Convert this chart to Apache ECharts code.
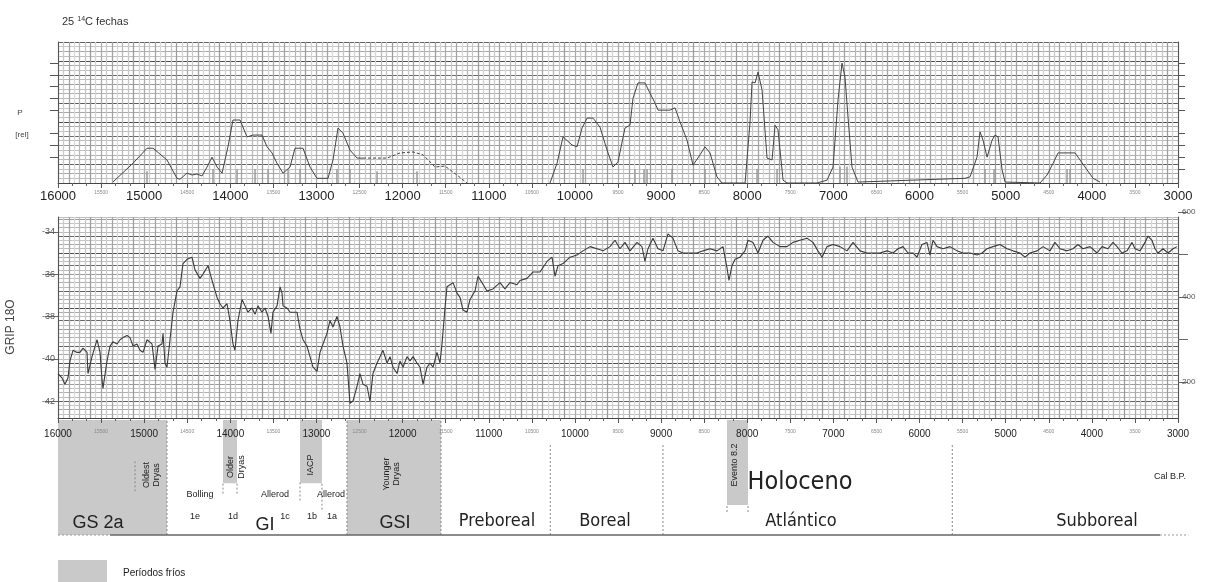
<!DOCTYPE html>
<html><head><meta charset="utf-8">
<script src="https://cdn.jsdelivr.net/npm/echarts@6/dist/echarts.min.js"></script>
<style>html,body{margin:0;padding:0;background:#fff}#c{width:1210px;height:582px}</style>
</head><body><div id="c"></div>
<script>
// ---------- DATA ----------
// Summed probability of 14C dates (relative units), cal BP
const pYearsA = [15362,15130,14967,14897,14735,14619,14584,14503,14445,14387,14328,14270,14212,14154,14096,14027,13969,13887,13806,13737,13632,13574,13516,13458,13388,13307,13249,13156,13075,12994,12866,12808,12750,12692,12611,12529,12460];
const pValsA  = [0.2,4.2,7.4,7.4,4.9,1.0,0.8,2.1,1.7,1.9,1.5,3.4,5.5,3.4,2.1,7.7,13.4,13.4,9.8,10.2,10.2,7.7,6.4,4.2,2.1,3.4,7.4,7.4,3.4,1.0,1.0,4.9,11.7,10.6,7.0,5.3,5.3];
const pYearsDash = [12460,12181,12030,11879,11763,11624,11508,11369,11253];
const pValsDash  = [5.3,5.3,6.4,6.6,6.0,3.4,3.6,1.7,0];
const pYearsB = [10289,10208,10138,10034,9976,9917,9859,9790,9709,9627,9558,9500,9419,9361,9326,9268,9187,9128,9070,9035,8896,8838,8780,8699,8629,8548,8490,8432,8351,8293,8025,7968,7944,7909,7875,7828,7770,7712,7677,7643,7584,7538,7190,7074,7004,6946,6900,6865,6830,6784,6714,5472,5414,5333,5298,5263,5216,5158,5124,5089,5042,5007,4601,4520,4450,4392,4195,4137,4056,3986,3905];
const pValsB  = [0,4.2,9.8,8.1,7.7,11.7,13.8,13.8,11.9,7.0,3.4,4.5,11.7,12.3,18.0,21.3,21.3,19.1,17.0,15.5,15.5,16.0,13.0,9.1,3.8,6.0,7.7,6.4,1.3,0,0,12.8,21.5,21.3,23.6,19.8,5.3,4.9,12.3,11.3,0.6,0,0,0.6,3.4,17.7,25.5,22.5,14.0,3.4,0.2,1.0,1.3,5.5,10.9,9.1,5.5,9.1,10.2,9.8,2.8,0.2,0,1.7,4.2,6.4,6.4,4.9,2.8,1.0,0.2];
// Individual 14C dates (cal BP) and their bar height
const dateYears   = [14967,14201,13922,13713,13562,13330,13191,12762,12611,12297,11833,9906,9303,9198,9163,8873,8490,7886,7654,6923,6842,5240,5135,4288,4253];
const dateHeights = [2.5,3,3,3,3,3,3,3,3,2.5,2.5,3,3,3,3,3,3,3,3,3.5,3.5,3,3,3,3];
// GRIP d18O
const gripYears = [16000,15954,15919,15884,15861,15826,15779,15745,15710,15663,15652,15605,15547,15512,15489,15478,15431,15396,15362,15315,15280,15246,15199,15164,15129,15083,15048,15013,14967,14909,14874,14839,14793,14781,14758,14735,14700,14665,14619,14584,14549,14503,14445,14410,14352,14317,14259,14212,14154,14120,14085,14038,14004,13969,13946,13911,13864,13829,13795,13748,13713,13679,13632,13597,13562,13528,13505,13458,13423,13400,13388,13342,13307,13272,13226,13191,13156,13110,13075,13040,12994,12959,12924,12878,12843,12808,12762,12727,12692,12646,12611,12576,12529,12495,12460,12413,12379,12344,12297,
12262,12228,12181,12146,12112,12065,12030,11995,11949,11914,11879,11833,11798,11763,11717,11682,11647,11601,11566,11543,11508,11485,11450,11415,11369,11334,11299,11253,11218,11160,11125,11079,11021,10951,10870,10812,10754,10672,10638,10556,10487,10405,10324,10266,10231,10196,10138,10057,9976,9906,9825,9744,9674,9593,9535,9477,9419,9361,9280,9222,9187,9152,9094,9036,8978,8920,8862,8804,8746,8665,8583,8513,8432,8351,8281,8235,8212,8177,8142,8084,8026,7991,7933,7875,7817,7759,7701,7620,7538,
7469,7388,7306,7237,7179,7132,7074,7004,6923,6842,6772,6691,6610,6540,6459,6378,6308,6250,6192,6134,6076,6030,5972,5914,5879,5844,5797,5728,5646,5565,5496,5414,5333,5275,5217,5147,5066,4985,4915,4834,4776,4718,4637,4567,4486,4428,4370,4289,4219,4161,4103,4021,3940,3882,3813,3755,3708,3650,3592,3534,3499,3441,3383,3348,3302,3267,3232,3174,3116,3058,3012];
const gripVals = [-40.7,-40.9,-41.2,-40.9,-40.1,-39.6,-39.7,-39.7,-39.5,-39.7,-40.7,-39.9,-39.1,-39.7,-41.0,-41.4,-40.1,-39.4,-39.2,-39.3,-39.1,-39.0,-38.9,-39.0,-39.4,-39.3,-39.6,-39.7,-39.1,-39.3,-40.5,-39.4,-39.3,-38.8,-40.2,-40.4,-39.1,-37.8,-36.8,-36.6,-35.5,-35.3,-35.2,-35.8,-36.2,-36.0,-35.6,-36.3,-37.1,-37.4,-37.6,-37.4,-38.2,-39.3,-39.6,-38.2,-37.2,-37.5,-37.8,-37.6,-37.9,-37.5,-37.8,-37.6,-38.0,-38.8,-37.8,-37.5,-36.6,-36.9,-37.5,-37.6,-37.8,-37.8,-37.8,-38.6,-39.1,-39.4,-39.9,-40.4,-40.6,-39.7,-39.3,-38.8,-38.2,-38.5,-38.0,-38.5,-39.4,-40.2,-42.1,-42.0,-41.3,-40.7,-41.2,-41.3,-42.0,-40.7,-40.2,
-39.9,-39.6,-40.2,-39.9,-40.4,-40.7,-40.1,-40.4,-39.9,-40.1,-39.9,-40.2,-40.4,-41.2,-40.4,-40.2,-40.4,-39.7,-40.2,-39.3,-37.6,-36.6,-36.5,-36.4,-36.9,-37.1,-37.7,-37.8,-37.2,-36.8,-36.1,-36.4,-36.8,-36.7,-36.4,-36.7,-36.4,-36.5,-36.3,-36.2,-35.9,-35.9,-35.4,-35.2,-36.1,-35.6,-35.5,-35.2,-35.1,-34.9,-34.7,-34.8,-34.9,-34.7,-34.4,-34.8,-34.5,-34.9,-34.5,-34.7,-35.4,-34.8,-34.3,-34.8,-34.9,-34.1,-34.3,-34.9,-35.0,-35.0,-35.0,-34.9,-34.8,-34.9,-34.7,-35.7,-36.3,-35.6,-35.3,-35.2,-34.9,-34.4,-34.5,-35.0,-34.4,-34.2,-34.5,-34.7,-34.7,
-34.5,-34.4,-34.3,-34.5,-34.9,-35.2,-34.7,-34.6,-34.7,-34.9,-34.5,-34.9,-35.0,-35.0,-35.0,-34.9,-35.0,-34.8,-34.7,-35.0,-35.0,-35.2,-34.6,-34.5,-35.1,-34.4,-34.7,-34.8,-34.7,-34.9,-35.0,-35.0,-35.1,-35.0,-34.8,-34.7,-34.6,-34.8,-34.9,-35.0,-35.2,-35.0,-34.9,-34.7,-34.9,-34.5,-34.8,-34.9,-34.8,-34.6,-34.8,-34.7,-35.0,-34.7,-34.8,-34.5,-34.7,-35.0,-34.9,-34.5,-34.8,-34.9,-34.5,-34.2,-34.4,-34.8,-35.0,-34.8,-35.0,-34.8,-34.7];
// Tick labels
const gripTickValues = [-34,-36,-38,-40,-42];
const rightTickLabels = [200,400,600];
// Cold periods (grey boxes): start, end (cal BP), depth of box (100 = full band)
const coldNames  = ['GS 2a','Older Dryas','IACP','GSI','Evento 8.2'];
const coldStart  = [16000,14085,13191,12646,8235];
const coldEnd    = [14735,13922,12936,11555,7991];
const coldBottom = [0,45,45,0,26];
// Zone boundaries (dotted lines): year, from, to (band units)
const divYears = [15106,14735,14085,13922,13191,12936,12646,11555,10286,8978,5620,8235,7991];
const divFrom  = [38,0,36,36,30,22,0,0,0,0,0,20,20];
const divTo    = [65,100,46,46,46,46,100,100,80,80,80,27,27];

// ---------- CHART ----------
const chart = echarts.init(document.getElementById('c'));
const zip = (a,b) => a.map((v,i)=>[v,b[i]]);
const L = 58, W = 1120;
const vCols = ['#ababab','#d2d2d2','#9c9c9c','#c6c6c6','#b8b8b8','#d8d8d8','#a4a4a4','#cacaca'];
const hCols = ['#4a4a4a','#c0c0c0','#a8a8a8','#c8c8c8','#5e5e5e','#bbbbbb','#b0b0b0','#c4c4c4','#9a9a9a','#bdbdbd','#6a6a6a','#c2c2c2','#aaaaaa'];
const xLab = (size, col) => ({
  formatter: v => (v % 1000 === 0 ? '{a|' + v + '}' : '{b|' + v + '}'),
  rich: { a: { fontSize: size, color: col, fontFamily: 'Liberation Sans' },
          b: { fontSize: 5, color: '#888', fontFamily: 'Liberation Sans' } }
});
const linesX = (gi) => ({ type:'value', gridIndex:gi, position:'bottom', min:3000, max:16000, inverse:true, interval:62.5,
  axisLine:{show:false}, axisTick:{show:false}, axisLabel:{show:false},
  splitLine:{show:true, lineStyle:{color:vCols, width:1.3}} });
const labelX = (gi, size, margin) => ({ type:'value', gridIndex:gi, position:'bottom', min:3000, max:16000, inverse:true, interval:500,
  axisLine:{show:true, onZero:false, lineStyle:{color:'#444', width:1}},
  axisTick:{show:true, length:5, lineStyle:{color:'#555'}},
  minorTick:{show:true, splitNumber:3, length:3, lineStyle:{color:'#666'}},
  splitLine:{show:false},
  axisLabel:Object.assign({margin:margin}, xLab(size,'#222')) });
const linesY = (gi, min, max, iv) => ({type:'value', gridIndex:gi, position:'left', min:min, max:max, interval:iv,
  axisLine:{show:false}, axisTick:{show:false}, axisLabel:{show:false},
  splitLine:{show:true, lineStyle:{color:hCols, width:1.1}}});

const option = {
  animation:false,
  backgroundColor:'#fff',
  grid:[
    {left:L, top:42, width:W, height:141},
    {left:L, top:217, width:W, height:201},
    {left:L, top:212, width:W, height:170},
    {left:L, top:420, width:W, height:115}
  ],
  xAxis:[
    linesX(0),
    labelX(0, 13, 7),
    linesX(1),
    labelX(1, 10, 11),
    {type:'value', gridIndex:2, min:3000, max:16000, inverse:true, show:false},
    {type:'value', gridIndex:3, min:3000, max:16000, inverse:true, show:false}
  ],
  yAxis:[
    linesY(0, 0, 30, 1),
    {type:'value', gridIndex:0, position:'left', min:0, max:30,
     axisLine:{show:true, lineStyle:{color:'#555'}},
     axisTick:{show:true, length:8, customValues:[5.5,8,10.5,15.5,18,20.5,23,25.5], lineStyle:{color:'#555'}},
     axisLabel:{show:false}, splitLine:{show:false}},
    {type:'value', gridIndex:0, position:'right', min:0, max:30,
     axisLine:{show:true, lineStyle:{color:'#555'}},
     axisTick:{show:true, length:7, customValues:[3,5.5,8,10.5,15.5,18,20.5,23,25.5], lineStyle:{color:'#555'}},
     axisLabel:{show:false}, splitLine:{show:false}},
    linesY(1, -42.8, -33.3, 0.2),
    {type:'value', gridIndex:1, position:'left', min:-42.8, max:-33.3,
     axisLine:{show:true, lineStyle:{color:'#555'}},
     axisTick:{show:true, length:13, customValues:gripTickValues, lineStyle:{color:'#666'}},
     axisLabel:{show:true, customValues:gripTickValues, margin:3, fontSize:9, color:'#555', fontFamily:'Liberation Sans'},
     splitLine:{show:false}},
    {type:'value', gridIndex:1, position:'right', min:-42.8, max:-33.3,
     axisLine:{show:true, lineStyle:{color:'#555'}}, axisTick:{show:false}, axisLabel:{show:false}, splitLine:{show:false}},
    {type:'value', gridIndex:2, min:200, max:600, interval:100, position:'right',
     axisLine:{show:false},
     axisTick:{show:true, length:10, lineStyle:{color:'#666'}},
     axisLabel:{show:true, customValues:rightTickLabels, margin:4, fontSize:8, color:'#555', fontFamily:'Liberation Sans'},
     splitLine:{show:false}},
    {type:'value', gridIndex:3, min:0, max:100, show:false}
  ],
  series:[
    {type:'custom', xAxisIndex:0, yAxisIndex:0, data:zip(dateYears,dateHeights), z:3,
     renderItem:(p,api)=>{const a=api.coord([api.value(0),0]), b=api.coord([api.value(0),api.value(1)]);
       return {type:'line', shape:{x1:a[0],y1:a[1],x2:b[0],y2:b[1]}, style:{stroke:'#9a9a9a', lineWidth:1.5}};}},
    {type:'line', xAxisIndex:0, yAxisIndex:0, data:zip(pYearsA,pValsA), showSymbol:false, z:4,
     lineStyle:{color:'#444', width:1}},
    {type:'line', xAxisIndex:0, yAxisIndex:0, data:zip(pYearsDash,pValsDash), showSymbol:false, z:4,
     lineStyle:{color:'#444', width:1, type:[3,2]}},
    {type:'line', xAxisIndex:0, yAxisIndex:0, data:zip(pYearsB,pValsB), showSymbol:false, z:4,
     lineStyle:{color:'#444', width:1}},
    {type:'line', xAxisIndex:2, yAxisIndex:3, data:zip(gripYears,gripVals), showSymbol:false, z:4,
     lineStyle:{color:'#3a3a3a', width:1.1}},
    {type:'custom', xAxisIndex:5, yAxisIndex:7, z:0,
     data:coldNames.map((n,i)=>[coldStart[i],coldEnd[i],100,coldBottom[i]]),
     renderItem:(p,api)=>{const a=api.coord([api.value(0),api.value(2)]), b=api.coord([api.value(1),api.value(3)]);
       return {type:'rect', shape:{x:Math.min(a[0],b[0]), y:a[1], width:Math.abs(b[0]-a[0]), height:b[1]-a[1]}, style:{fill:'#c9c9c9'}};}},
    {type:'custom', xAxisIndex:5, yAxisIndex:7, z:1,
     data:divYears.map((y,i)=>[y,divFrom[i],divTo[i]]),
     renderItem:(p,api)=>{const a=api.coord([api.value(0),api.value(1)]), b=api.coord([api.value(0),api.value(2)]);
       return {type:'line', shape:{x1:a[0],y1:a[1],x2:b[0],y2:b[1]}, style:{stroke:'#8a8a8a', lineWidth:1, lineDash:[2,2]}};}},
    {type:'custom', xAxisIndex:5, yAxisIndex:7, z:1, clip:false,
     data:[[16000,15396,1],[15396,3209,0],[3209,2880,1]],
     renderItem:(p,api)=>{const a=api.coord([api.value(0),0]), b=api.coord([api.value(1),0]); const d=api.value(2)===1;
       return {type:'line', shape:{x1:a[0],y1:a[1],x2:b[0],y2:b[1]}, style:{stroke:d?'#999':'#666', lineWidth:d?1:1.5, lineDash:d?[2,2]:null}};}}
  ],
  graphic:[]
};

const T = (text, x, y, size, opt={}) => ({type:'text', x:x, y:y, rotation:opt.rot||0, z:10,
  style:{text:text, fontSize:size, fontFamily:opt.font||'Liberation Sans', fill:opt.fill||'#222',
         align:opt.align||'center', verticalAlign:'middle', lineHeight:opt.lh||size+1, rich:opt.rich}});
const R = Math.PI/2;
const NAR = 'Liberation Sans Narrow, Liberation Sans';
const CON = 'DejaVu Sans Condensed, DejaVu Sans';
option.graphic = [
  T('25 {s|14}C fechas', 62, 22, 11, {align:'left', fill:'#333', rich:{s:{fontSize:7, verticalAlign:'top', padding:[0,0,6,0]}}}),
  T('P', 20, 113, 8, {fill:'#444'}),
  T('[rel]', 22, 135, 8, {fill:'#444'}),
  T('GRIP 18O', 11, 327, 12, {rot:R, fill:'#444'}),
  T('Oldest\nDryas', 152, 475, 9, {rot:R, lh:10}),
  T('Older\nDryas', 236, 467, 9, {rot:R, lh:11}),
  T('IACP', 311, 465, 9, {rot:R}),
  T('Younger\nDryas', 392, 474, 9, {rot:R, lh:10}),
  T('Evento 8.2', 735, 465, 9, {rot:R}),
  T('Bolling', 200, 495, 9),
  T('Allerod', 275, 495, 9),
  T('Allerod', 331, 495, 9),
  T('1e', 195, 517, 9), T('1d', 233, 517, 9), T('1c', 285, 517, 9), T('1b', 312, 517, 9), T('1a', 332, 517, 9),
  T('GS 2a', 98, 523, 18, {font:NAR}),
  T('GI', 265, 525, 18, {font:NAR}),
  T('GSI', 395, 523, 18, {font:NAR}),
  T('Preboreal', 497, 521, 18, {font:CON}),
  T('Boreal', 605, 521, 18, {font:CON}),
  T('Atlántico', 801, 521, 18, {font:CON}),
  T('Subboreal', 1097, 521, 18, {font:CON}),
  T('Holoceno', 800, 482, 25, {font:CON}),
  T('Cal B.P.', 1170, 477, 9),
  {type:'rect', shape:{x:58, y:560, width:49, height:26}, style:{fill:'#c9c9c9'}},
  T('Períodos fríos', 123, 573, 10, {align:'left'})
];
chart.setOption(option);
</script></body></html>
